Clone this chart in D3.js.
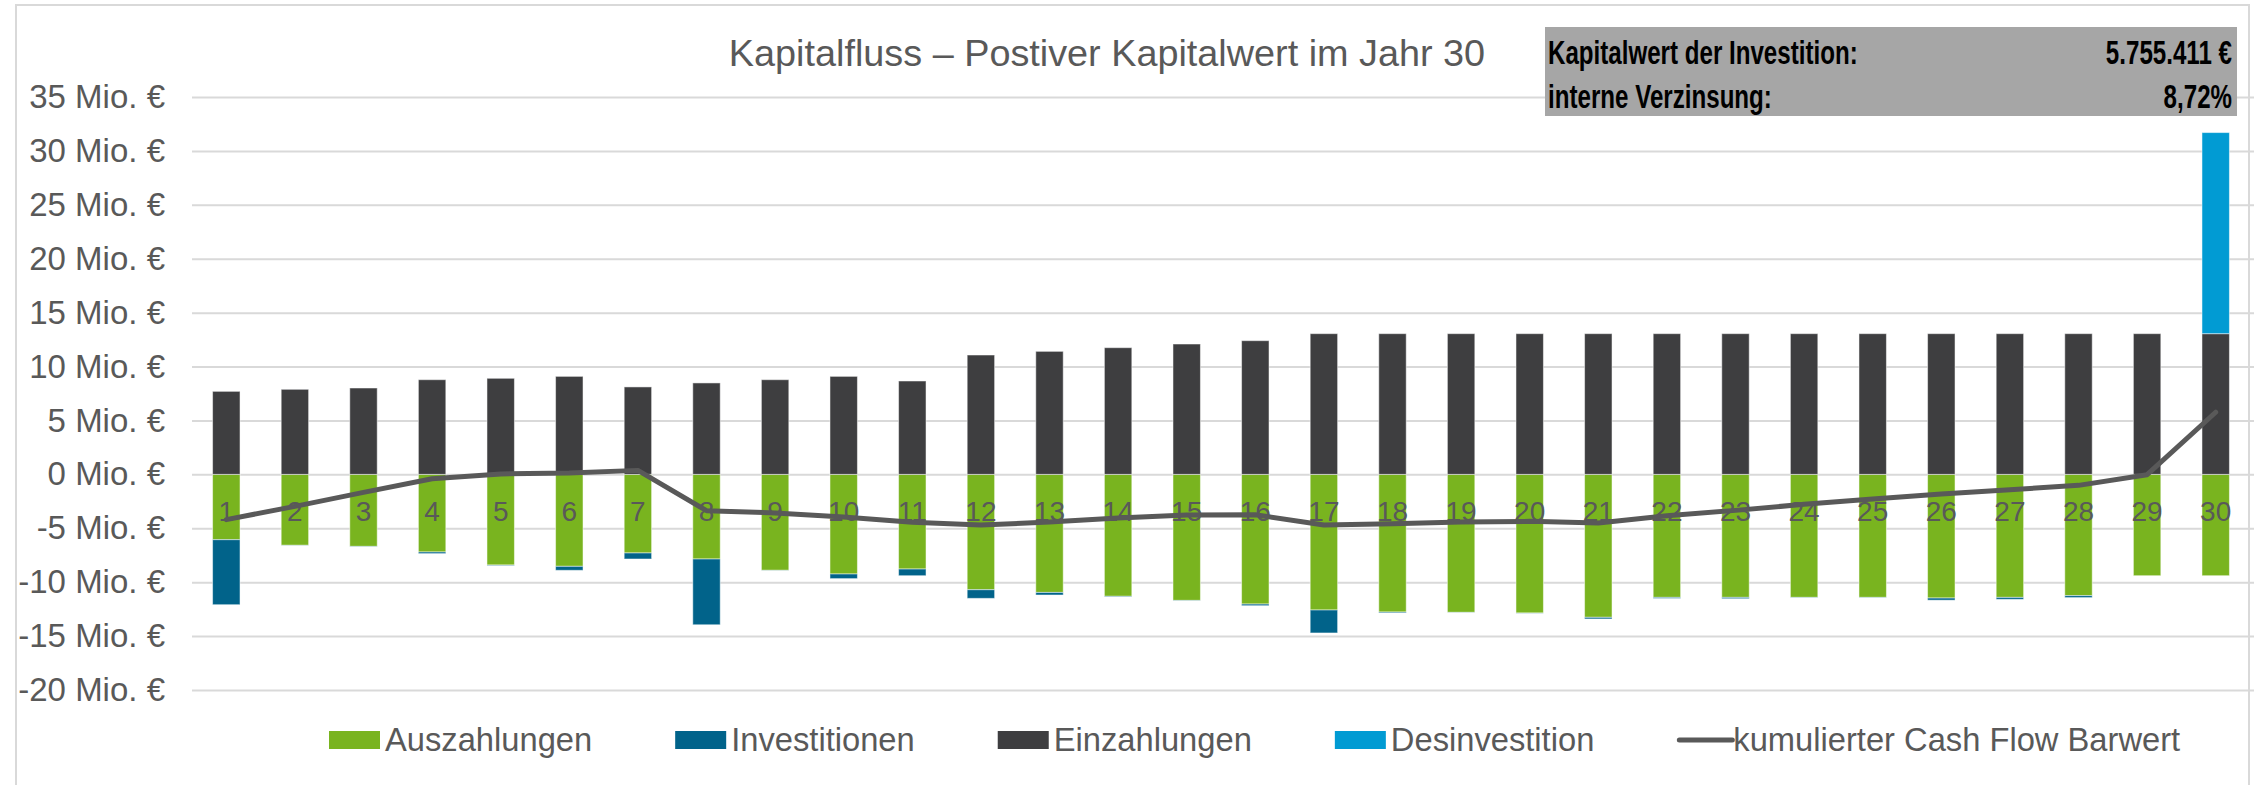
<!DOCTYPE html>
<html>
<head>
<meta charset="utf-8">
<script src="https://cdn.jsdelivr.net/npm/d3@7"></script>
<style>
	body { margin: 0; background: #fff; }
	svg { display: block; font-family: 'Liberation Sans', Arial, sans-serif; }
</style>
</head>
<body>
<div id="chart"></div>
<script>
// Jahre 1..30
var years = d3.range(1, 31);
// Werte in Mio. Euro
var auszahlungen = [6.06, 6.58, 6.68, 7.20, 8.41, 8.53, 7.29, 7.85, 8.90, 9.24, 8.78, 10.70, 10.95, 11.31, 11.69,
	12.03, 12.58, 12.77, 12.80, 12.86, 13.26, 11.41, 11.41, 11.41, 11.41, 11.47, 11.41, 11.25, 9.40, 9.40];
var investitionen = [6.03, 0.02, 0.03, 0.15, 0.05, 0.37, 0.56, 6.10, 0.02, 0.43, 0.62, 0.80, 0.24, 0.05, 0.03,
	0.15, 2.13, 0.08, 0.02, 0.02, 0.15, 0.10, 0.12, 0.03, 0.03, 0.20, 0.18, 0.18, 0, 0];
var einzahlungen = [7.70, 7.89, 8.01, 8.78, 8.91, 9.09, 8.11, 8.48, 8.78, 9.09, 8.66, 11.07, 11.41, 11.75, 12.09,
	12.40, 13.05, 13.05, 13.05, 13.05, 13.05, 13.05, 13.05, 13.05, 13.05, 13.05, 13.05, 13.05, 13.05, 13.05];
var desinvestition = [0, 0, 0, 0, 0, 0, 0, 0, 0, 0, 0, 0, 0, 0, 0,
	0, 0, 0, 0, 0, 0, 0, 0, 0, 0, 0, 0, 0, 0, 18.65];
var kumuliert = [-4.20, -2.97, -1.67, -0.40, 0.04, 0.13, 0.37, -3.37, -3.58, -3.95, -4.45, -4.70, -4.42, -4.05, -3.77,
	-3.74, -4.70, -4.57, -4.42, -4.36, -4.51, -3.83, -3.34, -2.78, -2.29, -1.82, -1.42, -1.02, -0.03, 5.76];
var yTicks = [-20, -15, -10, -5, 0, 5, 10, 15, 20, 25, 30, 35];
var seriesNames = ['Auszahlungen', 'Investitionen', 'Einzahlungen', 'Desinvestition'];
var lineName = 'kumulierter Cash Flow Barwert';
var titleText = 'Kapitalfluss \u2013 Postiver Kapitalwert im Jahr 30';
var infoLabels = ['Kapitalwert der Investition:', 'interne Verzinsung:'];
var infoValues = ['5.755.411 \u20ac', '8,72%'];

/***********************************************************
  Start: Initialization Variables
***********************************************************/
var width = 2255;
var height = 785;
var plot = { left: 192, right: 2250, top: 97, bottom: 690 };
var colors = {
	Auszahlungen: '#79b41f',
	Investitionen: '#01638a',
	Einzahlungen: '#3e3e40',
	Desinvestition: '#019bd3'
};
var textColor = '#595959';
var gridColor = '#d9d9d9';
/***********************************************************
  End: Initialization Variables
***********************************************************/

var rows = years.map(function(y, i) {
	return {
		year: y,
		Auszahlungen: -auszahlungen[i],
		Investitionen: -investitionen[i],
		Einzahlungen: einzahlungen[i],
		Desinvestition: desinvestition[i]
	};
});

var stacked = d3.stack()
	.keys(seriesNames)
	.offset(d3.stackOffsetDiverging)(rows);

var x = d3.scaleBand()
	.domain(years)
	.range([plot.left, plot.right])
	.paddingInner(0.6)
	.paddingOuter(0.3);
var y = d3.scaleLinear().domain([-20, 35]).range([plot.bottom, plot.top]);

var svg = d3.select('#chart')
	.append('svg')
	.attr('width', width)
	.attr('height', height);

svg.append('rect')
	.attr('width', width)
	.attr('height', height)
	.attr('fill', '#fff');

// Outer frame
svg.append('rect')
	.attr('x', 16)
	.attr('y', 5)
	.attr('width', 2233)
	.attr('height', 820)
	.attr('fill', 'none')
	.attr('stroke', gridColor)
	.attr('stroke-width', 2);

/***********************************************************
  Start: Gridlines and Y axis
***********************************************************/
var yAxis = svg.append('g')
	.attr('transform', 'translate(' + plot.left + ',0)')
	.call(d3.axisLeft(y)
		.tickValues(yTicks)
		.tickSize(-(width - 1 - plot.left))
		.tickPadding(27)
		.tickFormat(function(d) { return d + ' Mio. \u20ac'; }));
yAxis.select('.domain').remove();
yAxis.selectAll('.tick line')
	.attr('stroke', gridColor)
	.attr('stroke-width', 2);
yAxis.selectAll('.tick text')
	.attr('fill', textColor)
	.style('font-size', '33px')
	.style('font-family', "'Liberation Sans', Arial, sans-serif");
/***********************************************************
  End: Gridlines and Y axis
***********************************************************/

// Bars
svg.append('g')
	.selectAll('g')
	.data(stacked)
	.enter()
	.append('g')
	.attr('fill', function(s) { return colors[s.key]; })
	.selectAll('rect')
	.data(function(s) { return s; })
	.enter()
	.append('rect')
	.attr('x', function(d) { return x(d.data.year); })
	.attr('width', x.bandwidth())
	.attr('y', function(d) { return y(Math.max(d[0], d[1])); })
	.attr('height', function(d) { return Math.abs(y(d[0]) - y(d[1])); })
	.attr('stroke', '#fff')
	.attr('stroke-opacity', 0.5)
	.attr('stroke-width', 1);

// Category labels
svg.append('g')
	.selectAll('text')
	.data(years)
	.enter()
	.append('text')
	.attr('x', function(d) { return x(d) + x.bandwidth() / 2; })
	.attr('y', y(0) + 47)
	.attr('text-anchor', 'middle')
	.attr('fill', textColor)
	.style('font-size', '28px')
	.text(function(d) { return d; });

// Cumulative line
var line = d3.line()
	.x(function(d, i) { return x(years[i]) + x.bandwidth() / 2; })
	.y(function(d) { return y(d); });
svg.append('path')
	.datum(kumuliert)
	.attr('d', line)
	.attr('fill', 'none')
	.attr('stroke', textColor)
	.attr('stroke-width', 5)
	.attr('stroke-linejoin', 'round')
	.attr('stroke-linecap', 'round');

// Title
svg.append('text')
	.attr('x', 1107)
	.attr('y', 66)
	.attr('text-anchor', 'middle')
	.attr('fill', textColor)
	.style('font-size', '37.8px')
	.text(titleText);

/***********************************************************
  Start: Info box
***********************************************************/
var box = { x: 1545, y: 27, w: 692, h: 89 };
svg.append('rect')
	.attr('x', box.x)
	.attr('y', box.y)
	.attr('width', box.w)
	.attr('height', box.h)
	.attr('fill', '#a6a6a6');
var baselines = [64, 108];
infoLabels.forEach(function(t, i) {
	svg.append('text')
		.attr('transform', 'translate(' + (box.x + 3) + ',' + baselines[i] + ') scale(0.71,1)')
		.style('font-size', '34px')
		.style('font-weight', 'bold')
		.attr('fill', '#000')
		.text(t);
	svg.append('text')
		.attr('transform', 'translate(' + (box.x + box.w - 5) + ',' + baselines[i] + ') scale(0.71,1)')
		.attr('text-anchor', 'end')
		.style('font-size', '34px')
		.style('font-weight', 'bold')
		.attr('fill', '#000')
		.text(infoValues[i]);
});
/***********************************************************
  End: Info box
***********************************************************/

/***********************************************************
  Start: Legend
***********************************************************/
var legendItems = seriesNames.map(function(n) { return { name: n, type: 'rect' }; })
	.concat([{ name: lineName, type: 'line' }]);
var legend = svg.append('g').attr('transform', 'translate(329,740)');
var cursor = 0;
legendItems.forEach(function(item) {
	var g = legend.append('g').attr('transform', 'translate(' + cursor + ',0)');
	if (item.type === 'rect') {
		g.append('rect')
			.attr('x', 0)
			.attr('y', -9)
			.attr('width', 51)
			.attr('height', 18)
			.attr('fill', colors[item.name]);
	} else {
		g.append('line')
			.attr('x1', 2)
			.attr('x2', 55)
			.attr('y1', 0)
			.attr('y2', 0)
			.attr('stroke', textColor)
			.attr('stroke-width', 5)
			.attr('stroke-linecap', 'round');
	}
	var t = g.append('text')
		.attr('x', 56)
		.attr('y', 11)
		.attr('fill', textColor)
		.style('font-size', '32.7px')
		.text(item.name);
	cursor += 56 + t.node().getComputedTextLength() + 83;
});
/***********************************************************
  End: Legend
***********************************************************/
</script>
</body>
</html>
